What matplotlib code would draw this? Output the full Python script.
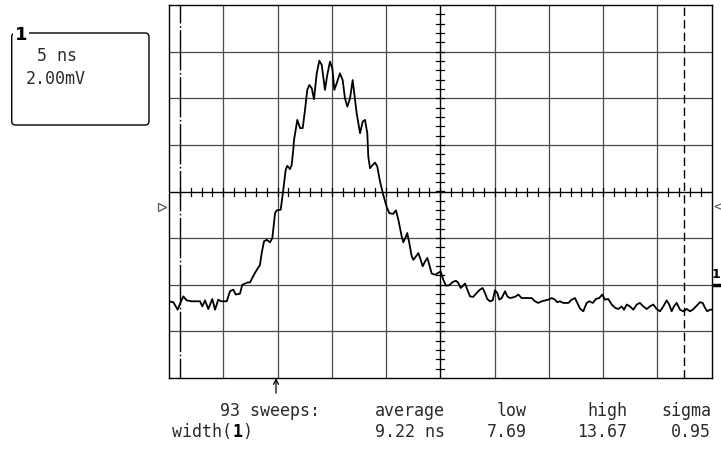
import numpy as np
import matplotlib.pyplot as plt
from matplotlib.patches import FancyBboxPatch

# trace: 5 ns/div, 2 mV/div, centre of screen = 0 mV
time_ns = [0.00, 0.40, 0.80, 1.11, 1.32, 1.63, 2.09, 2.86, 3.07, 3.32,
           3.62, 3.99, 4.24, 4.54, 4.79, 5.32, 5.62, 5.92, 6.15, 6.54,
           6.75, 7.00, 7.25, 7.46, 7.92, 8.38, 8.54, 8.75, 9.00, 9.31,
           9.52, 9.77, 9.92, 10.29, 10.53, 10.75, 10.90, 11.15, 11.30, 11.45,
           11.52, 11.82, 12.07, 12.32, 12.53, 12.74, 12.93, 13.15, 13.36, 13.61,
           13.85, 14.07, 14.37, 14.58, 14.83, 15.05, 15.23, 15.45, 15.75, 16.00,
           16.21, 16.43, 16.68, 16.92, 17.14, 17.29, 17.60, 17.85, 18.06, 18.27,
           18.36, 18.52, 18.77, 18.98, 19.19, 19.44, 19.74, 20.06, 20.30, 20.66,
           20.91, 21.13, 21.44, 21.59, 21.83, 21.95, 22.14, 22.36, 22.51, 22.76,
           22.97, 23.19, 23.37, 23.59, 23.80, 23.98, 24.20, 24.51, 24.81, 25.03,
           25.27, 25.52, 25.82, 26.14, 26.44, 26.65, 26.87, 27.05, 27.27, 27.43,
           27.73, 28.03, 28.35, 28.65, 28.90, 29.11, 29.32, 29.57, 29.82, 30.03,
           30.25, 30.43, 30.65, 30.96, 31.17, 31.42, 31.88, 32.18, 32.49, 33.42,
           33.72, 34.02, 34.34, 34.94, 35.26, 35.56, 35.77, 36.02, 36.33, 36.79,
           37.10, 37.40, 37.62, 37.87, 38.17, 38.48, 38.72, 39.04, 39.34, 39.64,
           39.92, 40.17, 40.47, 40.79, 41.10, 41.39, 41.71, 41.92, 42.17, 42.47,
           42.78, 43.09, 43.39, 43.70, 44.01, 44.31, 44.62, 44.93, 45.24, 45.54,
           45.85, 46.09, 46.31, 46.52, 46.77, 47.08, 47.38, 47.70, 48.00, 48.25,
           48.55, 48.92, 49.17, 49.38, 49.59, 49.84, 50.00]
volt_mv = [-4.71, -4.75, -5.07, -4.71, -4.50, -4.67, -4.71, -4.71, -4.93, -4.67,
           -5.04, -4.61, -5.07, -4.64, -4.71, -4.71, -4.28, -4.21, -4.42, -4.38,
           -4.00, -3.95, -3.90, -3.90, -3.49, -3.15, -2.64, -2.14, -2.07, -2.18,
           -2.00, -0.93, -0.81, -0.78, 0.07, 0.93, 1.10, 0.96, 1.14, 1.79,
           2.21, 3.07, 2.72, 2.72, 3.50, 4.36, 4.57, 4.43, 3.96, 5.07,
           5.61, 5.43, 4.36, 5.00, 5.57, 5.28, 4.36, 4.64, 5.07, 4.78,
           4.00, 3.64, 4.00, 4.78, 3.93, 3.36, 2.50, 3.00, 3.07, 2.50,
           1.50, 1.00, 1.14, 1.24, 1.07, 0.43, -0.14, -0.67, -0.93, -0.96,
           -0.81, -1.21, -1.93, -2.18, -1.93, -1.78, -2.21, -2.78, -2.93, -2.78,
           -2.64, -2.93, -3.21, -3.00, -2.85, -3.14, -3.52, -3.57, -3.49, -3.43,
           -3.78, -4.04, -4.02, -3.88, -3.83, -3.92, -4.14, -4.07, -3.95, -4.14,
           -4.50, -4.52, -4.35, -4.21, -4.14, -4.35, -4.61, -4.71, -4.67, -4.24,
           -4.35, -4.64, -4.57, -4.28, -4.50, -4.57, -4.52, -4.42, -4.57, -4.57,
           -4.71, -4.78, -4.71, -4.64, -4.57, -4.64, -4.75, -4.71, -4.78, -4.78,
           -4.64, -4.57, -4.78, -5.02, -5.14, -4.78, -4.71, -4.78, -4.61, -4.57,
           -4.42, -4.64, -4.61, -4.85, -4.99, -5.04, -4.93, -5.07, -4.85, -4.93,
           -5.07, -4.85, -4.78, -4.93, -5.04, -4.93, -4.85, -5.04, -5.14, -4.93,
           -4.67, -4.85, -5.14, -4.93, -4.78, -5.07, -5.14, -5.04, -5.14, -5.07,
           -4.93, -4.75, -4.78, -4.99, -5.14, -5.07, -5.07]

marker1_ns = 1.0
marker2_ns = 47.47
arrow_ns = 9.86
trigger_mv = -0.66
ground_mv = -4.0

timebase = "5 ns"
vscale = "2.00mV"
stat_heads = ["average", "low", "high", "sigma"]
stat_values = ["9.22 ns", "7.69", "13.67", "0.95"]
sweeps = "93 sweeps:"

W, H = 721, 450
fig = plt.figure(figsize=(W / 100, H / 100), dpi=100)
ax = fig.add_axes([169 / W, 72 / H, 542.7 / W, 373 / H])
ax.set_xlim(0, 50)
ax.set_ylim(-8, 8)
ax.set_xticks([])
ax.set_yticks([])
for s in ax.spines.values():
    s.set_color('black')
    s.set_linewidth(1.0)

grid_c = '#4a4a4a'
for t in range(5, 50, 5):
    if t != 25:
        ax.axvline(t, color=grid_c, lw=0.9)
for v in [-6, -4, -2, 2, 4, 6]:
    ax.axhline(v, color=grid_c, lw=0.9)
ax.axhline(0, color='black', lw=1.0)
ax.axvline(25, color='black', lw=1.0)

# small ticks on the centre axes
for t in np.arange(1, 50, 1):
    ax.plot([t, t], [-0.19, 0.17], color='black', lw=0.9)
for v in np.arange(-7.6, 8.0, 0.4):
    ax.plot([25 - 0.37, 25 + 0.37], [v, v], color='black', lw=0.9)

# time markers
ax.axvline(marker1_ns, color='black', lw=1.0, linestyle=(14.8, (29, 1.8, 1.2, 1.8)))
ax.axvline(marker2_ns, color='black', lw=1.0, linestyle=(0, (6, 3)))

ax.plot(time_ns, volt_mv, color='black', lw=1.3)

# arrow under the screen
ax.annotate('', xy=(arrow_ns, -8), xytext=(arrow_ns, -8.65),
            arrowprops=dict(arrowstyle='->', lw=0.9, color='black',
                            shrinkA=0, shrinkB=0, mutation_scale=9),
            annotation_clip=False)

# trigger and ground markers at the edges
ax.plot([-0.6], [trigger_mv], marker='>', ms=6, mfc='none', mec='#555555',
        mew=0.9, clip_on=False)
ax.text(50.12, trigger_mv, '<', fontsize=10, color='#555555',
        ha='left', va='center', family='DejaVu Sans Mono', clip_on=False)
ax.plot([50, 50.85], [ground_mv, ground_mv], color='black', lw=2.5,
        solid_capstyle='butt', clip_on=False)

# overlay in pixel units for the labels
ov = fig.add_axes([0, 0, 1, 1], zorder=5)
ov.set_xlim(0, W)
ov.set_ylim(H, 0)
ov.axis('off')

ov.text(720, 275, '1', fontsize=9, fontweight='bold', ha='right', va='center')

box = FancyBboxPatch((11.7, 33), 137.3, 92, boxstyle='round,pad=0,rounding_size=4',
                     fc='none', ec='black', lw=1.0)
ov.add_patch(box)
ov.text(21, 35, '1', fontsize=13, fontweight='bold', ha='center', va='center',
        bbox=dict(fc='white', ec='none', pad=1.5))

mono = 'DejaVu Sans Mono'
txt_c = '#2a2a2a'
fs = 12
pitch = 0.602 * fs * 100 / 72
ov.text(37, 56, timebase, family=mono, fontsize=fs, color=txt_c, ha='left', va='center')
ov.text(26, 78.5, vscale, family=mono, fontsize=fs, color=txt_c, ha='left', va='center')

row1, row2 = 411, 432
ov.text(320, row1, sweeps, family=mono, fontsize=fs, color=txt_c, ha='right', va='center')
ov.text(375, row1, stat_heads[0], family=mono, fontsize=fs, color=txt_c, ha='left', va='center')
ov.text(375, row2, stat_values[0], family=mono, fontsize=fs, color=txt_c, ha='left', va='center')
for head, val, xr in zip(stat_heads[1:], stat_values[1:], [527, 627, 711]):
    ov.text(xr, row1, head, family=mono, fontsize=fs, color=txt_c, ha='right', va='center')
    ov.text(xr, row2, val, family=mono, fontsize=fs, color=txt_c, ha='right', va='center')

ov.text(172, row2, 'width(', family=mono, fontsize=fs, color=txt_c, ha='left', va='center')
ov.text(172 + 6 * pitch, row2, '1', family=mono, fontsize=fs,
        fontweight='bold', color='black', ha='left', va='center')
ov.text(172 + 7 * pitch, row2, ')', family=mono, fontsize=fs, color=txt_c,
        ha='left', va='center')

fig.savefig('out.png', dpi=100, facecolor='white')
